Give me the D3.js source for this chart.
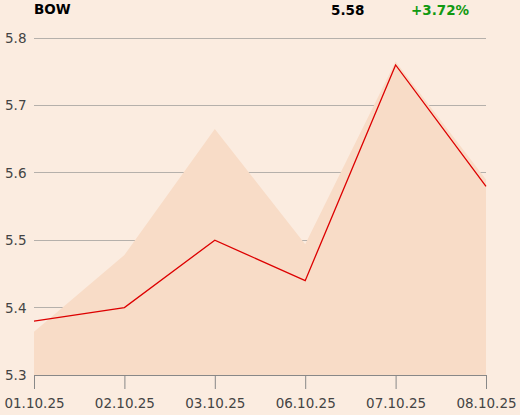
<!DOCTYPE html>
<html><head><meta charset="utf-8">
<script src="https://cdn.jsdelivr.net/npm/d3@7"></script>
<style>body{margin:0;background:#fbece0;}svg{display:block;font-family:"DejaVu Sans",sans-serif;}</style>
</head><body>
<svg id="c" width="520" height="415"></svg>
<script>
const dates = ["01.10.25","02.10.25","03.10.25","06.10.25","07.10.25","08.10.25"];
const closeVals = [5.38, 5.40, 5.50, 5.44, 5.76, 5.58];
const highVals = [5.364, 5.478, 5.665, 5.494, 5.765, 5.59];
const yTicks = [5.3, 5.4, 5.5, 5.6, 5.7, 5.8];
const title = "BOW", lastPrice = "5.58", change = "+3.72%";

const svg = d3.select("#c");
svg.append("rect").attr("width",520).attr("height",415).attr("fill","#fbece0");
const x = d3.scalePoint().domain(dates).range([34,486]);
const y = d3.scaleLinear().domain([5.3,5.8]).range([375,38]);

// grid
svg.append("g").selectAll("line").data(yTicks.slice(1)).join("line")
  .attr("x1",34).attr("x2",486).attr("y1",d=>y(d)).attr("y2",d=>y(d))
  .attr("stroke","#b5b0ab").attr("stroke-width",1).attr("shape-rendering","crispEdges");

// area
const area = d3.area().x((d,i)=>x(dates[i])).y0(y(5.3)).y1(d=>y(d));
svg.append("path").datum(highVals).attr("d",area).attr("fill","#f8dcc7");

// line
const line = d3.line().x((d,i)=>x(dates[i])).y(d=>y(d));
svg.append("path").datum(closeVals).attr("d",line).attr("fill","none").attr("stroke","#dd0000").attr("stroke-width",1.3);

// y labels
svg.append("g").selectAll("text").data(yTicks).join("text")
  .attr("x",5).attr("y",d=>y(d)+5).attr("font-size",13.5).attr("fill","#444").text(d=>d.toFixed(1));

// x axis
const xa = svg.append("g").attr("transform","translate(0,375)")
  .call(d3.axisBottom(x).tickSize(14).tickPadding(9));
xa.select(".domain").attr("stroke","#888");
xa.selectAll(".tick line").attr("stroke","#888");
xa.selectAll("text").attr("font-size",13.5).attr("fill","#444").attr("font-family","DejaVu Sans, sans-serif");

// header
svg.append("text").attr("x",34).attr("y",14).attr("font-size",13.5).attr("font-weight","bold").attr("fill","#000").text(title);
svg.append("text").attr("x",331).attr("y",15).attr("font-size",13.5).attr("font-weight","bold").attr("fill","#000").text(lastPrice);
svg.append("text").attr("x",411).attr("y",15).attr("font-size",13.5).attr("font-weight","bold").attr("fill","#119911").text(change);
</script>
</body></html>
